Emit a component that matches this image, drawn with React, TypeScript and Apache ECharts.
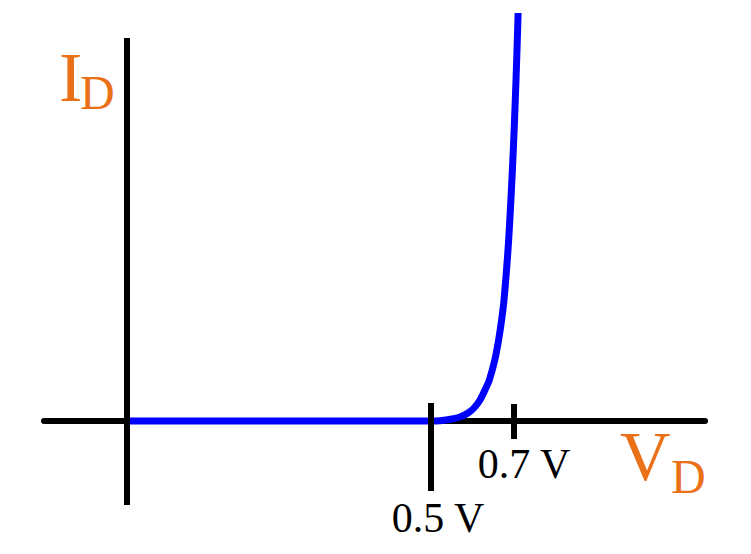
import React, { useEffect, useRef } from "react";
import * as echarts from "echarts";

// Diode forward characteristic (schematic): voltage V_D (V) vs current I_D (arb. units)
const voltage = [-0.2313, 0.5, 0.5229, 0.5518, 0.5711, 0.5904, 0.6048, 0.6193, 0.6313, 0.6417, 0.6549, 0.6641, 0.6713, 0.6771, 0.6867, 0.6937, 0.6995, 0.7043, 0.7084, 0.7111];
const current = [0, 0, 0.03, 0.2, 0.4, 0.8, 1.3, 2.1, 3.1, 4.1, 6.1, 8.1, 10.1, 12.1, 17.1, 22.1, 27.1, 32.1, 37.1, 40.8];

const tickVoltages = [0.5, 0.7];
const tickLabels = ["0.5 V", "0.7 V"];
const tickTop = [1.8, 1.7];
const tickBottom = [-7.0, -1.8];

const xRange = [-0.4313, 1.1614];
const yRange = [-8.4, 40.9];
const yAxisAt = -0.2313;
const yAxisSpan = [-8.4, 38.3];

const ORANGE = "#EA7117";
const SERIF = "'Liberation Serif', 'DejaVu Serif', serif";

export default function App() {
  const ref = useRef<HTMLDivElement>(null);
  useEffect(() => {
    if (!ref.current) return;
    const chart = echarts.init(ref.current, null, { renderer: "svg" });
    const data = voltage.map((v, i) => [v, current[i]]);
    const labelOffsets = [
      [7.5, 27],
      [10.5, 25],
    ];
    chart.setOption({
      animation: false,
      backgroundColor: "#ffffff",
      grid: { left: 44, right: 46, top: 12, bottom: 49 },
      xAxis: {
        type: "value",
        min: xRange[0],
        max: xRange[1],
        axisLine: { show: true, onZero: true, lineStyle: { color: "#000", width: 6 } },
        axisTick: { show: false },
        axisLabel: { show: false },
        splitLine: { show: false },
      },
      yAxis: {
        type: "value",
        min: yRange[0],
        max: yRange[1],
        axisLine: { show: false },
        axisTick: { show: false },
        axisLabel: { show: false },
        splitLine: { show: false },
      },
      series: [
        {
          type: "line",
          data,
          smooth: 0.3,
          showSymbol: false,
          symbol: "none",
          clip: false,
          lineStyle: { color: "#0000FF", width: 7, join: "round" },
          emphasis: { disabled: true },
          silent: true,
          markLine: {
            silent: true,
            symbol: ["none", "none"],
            label: { show: false },
            lineStyle: { color: "#000", width: 6, type: "solid" },
            emphasis: { disabled: true },
            data: [
              [{ coord: [yAxisAt, yAxisSpan[0]] }, { coord: [yAxisAt, yAxisSpan[1]] }],
              ...tickVoltages.map((v, i) => [
                { coord: [v, tickTop[i]] },
                { coord: [v, tickBottom[i]] },
              ]),
            ],
          },
          markPoint: {
            silent: true,
            symbol: "circle",
            symbolSize: 0,
            itemStyle: { color: "rgba(0,0,0,0)" },
            label: {
              show: true,
              position: "inside",
              formatter: "{b}",
              color: "#000",
              fontFamily: SERIF,
              fontSize: 42,
              align: "center",
              verticalAlign: "middle",
            },
            data: tickVoltages.map((v, i) => ({
              name: tickLabels[i],
              coord: [v, tickBottom[i]],
              label: { offset: labelOffsets[i] },
            })),
          },
        },
      ],
      graphic: [
        { type: "text", x: 59, y: 77.5, style: { text: "I", fill: ORANGE, fontFamily: SERIF, fontSize: 70, align: "left", verticalAlign: "middle" } },
        { type: "text", x: 80, y: 92.5, style: { text: "D", fill: ORANGE, fontFamily: SERIF, fontSize: 48, align: "left", verticalAlign: "middle" } },
        { type: "text", x: 620, y: 456, style: { text: "V", fill: ORANGE, fontFamily: SERIF, fontSize: 70, align: "left", verticalAlign: "middle" } },
        { type: "text", x: 671, y: 476.5, style: { text: "D", fill: ORANGE, fontFamily: SERIF, fontSize: 48, align: "left", verticalAlign: "middle" } },
      ],
    });
    return () => chart.dispose();
  }, []);
  return (
    <div
      ref={ref}
      style={{ position: "fixed", left: 0, top: 0, width: 751, height: 554 }}
    />
  );
}
